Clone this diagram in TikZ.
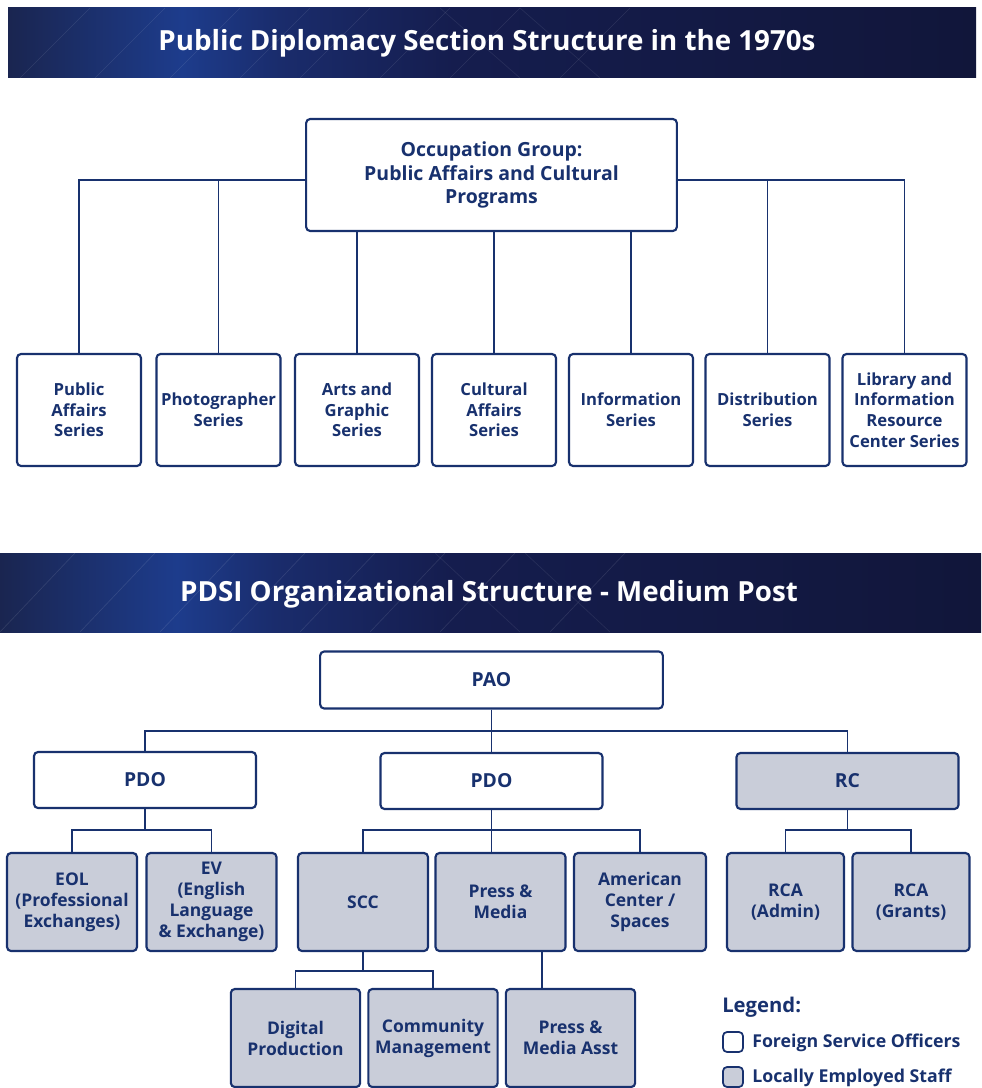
\documentclass[tikz,border=0pt]{standalone}
\usepackage{fontspec}
\setmainfont{Open Sans}
\usetikzlibrary{positioning}

\definecolor{navy}{HTML}{18316E}
\definecolor{lesfill}{HTML}{C9CDD9}
\definecolor{bnA}{HTML}{1A2550}
\definecolor{bnB}{HTML}{1D3C8C}
\definecolor{bnC}{HTML}{1A2C6C}
\definecolor{bnD}{HTML}{151D4E}
\definecolor{bnE}{HTML}{11163A}
\pgfdeclarehorizontalshading{bannershade}{100bp}{color(0bp)=(bnA); color(25bp)=(bnA);
  color(34bp)=(bnB); color(39bp)=(bnC); color(48bp)=(bnD); color(75bp)=(bnE); color(100bp)=(bnE)}

\begin{document}
\begin{tikzpicture}[x=0.75pt,y=-0.75pt,
		fso/.style={draw=navy,line width=1.6pt,rounded corners=3pt,fill=white,text=navy,
			align=center,inner sep=1pt,font=\fontsize{12.5}{15.5}\selectfont\bfseries},
		les/.style={fso,fill=lesfill},
		series/.style={fso,minimum width=93pt,minimum height=84pt},
		unit/.style={les,minimum width=97.5pt,minimum height=73.5pt,font=\fontsize{13.1}{15.75}\selectfont\bfseries},
		head/.style={minimum width=166.5pt,minimum height=42pt,font=\fontsize{14.5}{17}\selectfont\bfseries},
		link/.style={draw=navy,line width=1.4pt},
		title/.style={text=white,font=\fontsize{20.8}{24}\selectfont\bfseries},
		legtext/.style={anchor=west,inner sep=0pt,text=navy,font=\fontsize{13.3}{15}\selectfont\bfseries}]
		\useasboundingbox (0,0) rectangle (981,1088);
		
		% banners
		\fill[shading=bannershade] (8,8) rectangle (976,78);
		\fill[shading=bannershade] (0,553) rectangle (981,632);
		\begin{scope}
			\clip (8,8) rectangle (976,78);
			\foreach \x in {20,95,170,240,300,380,450,560} \draw[white,opacity=0.10,line width=0.5pt] (\x,78) -- ++(70,-70);
			\foreach \x in {520,600} \draw[white,opacity=0.08,line width=0.5pt] (\x,78) -- ++(-80,-70);
		\end{scope}
		\begin{scope}
			\clip (0,553) rectangle (981,632);
			\foreach \x in {0,80,160,230,300,370,440,550} \draw[white,opacity=0.10,line width=0.5pt] (\x,632) -- ++(75,-79);
			\foreach \x in {520,610} \draw[white,opacity=0.08,line width=0.5pt] (\x,632) -- ++(-85,-79);
		\end{scope}
		\node[title] (t1) at (487,43) {Public Diplomacy Section Structure in the 1970s};
		\node[title] (t2) at (489,594) {PDSI Organizational Structure - Medium Post};
		
		% occupation group
		\node[fso,minimum width=278pt,minimum height=84pt,font=\fontsize{14.6}{17.6}\selectfont\bfseries] (og) at (491.5,175)
			{Occupation Group:\\Public Affairs and Cultural\\Programs};
		\node[series] (s1) at (79,410) {Public\\Affairs\\Series};
		\node[series] (s2) at (218.5,410) {Photographer\\Series};
		\node[series] (s3) at (357,410) {Arts and\\Graphic\\Series};
		\node[series] (s4) at (494,410) {Cultural\\Affairs\\Series};
		\node[series] (s5) at (631,410) {Information\\Series};
		\node[series] (s6) at (767.5,410) {Distribution\\Series};
		\node[series] (s7) at (904.5,410) {Library and\\Information\\Resource\\Center Series};
		\draw[link] ([yshift=-3.75pt]og.west) -| (s1.north);
		\draw[link] ([yshift=-3.75pt]og.west) -| (s2.north);
		\draw[link] ([yshift=-3.75pt]og.east) -| (s6.north);
		\draw[link] ([yshift=-3.75pt]og.east) -| (s7.north);
		\draw[link] (og.south -| s3.north) -- (s3.north);
		\draw[link] (og.south -| s4.north) -- (s4.north);
		\draw[link] (og.south -| s5.north) -- (s5.north);
		
		% pao and pdo
		\node[fso,head,minimum width=257pt,minimum height=42.75pt] (pao) at (491.5,680) {PAO};
		\node[fso,head] (pdoa) at (145,780) {PDO};
		\node[fso,head] (pdob) at (491.5,781) {PDO};
		\node[les,head] (rc) at (847.5,781) {RC};
		\draw[link] (pao.south) -- ++(0,21) -| (pdoa.north);
		\draw[link] (pao.south) -- ++(0,21) -| (pdob.north);
		\draw[link] (pao.south) -- ++(0,21) -| (rc.north);
		
		% units
		\node[unit] (eol) at (72,902) {EOL\\(Professional\\Exchanges)};
		\node[unit] (ev) at (211.5,902) {EV\\(English\\Language\\\& Exchange)};
		\node[unit] (scc) at (363,902) {SCC};
		\node[unit] (pm) at (500.5,902) {Press \&\\Media};
		\node[unit,minimum width=99pt] (ac) at (640,902) {American\\Center /\\Spaces};
		\node[unit,minimum width=87.75pt] (rcaa) at (785.5,902) {RCA\\(Admin)};
		\node[unit,minimum width=87.75pt] (rcag) at (911,902) {RCA\\(Grants)};
		\draw[link] (pdoa.south) -- ++(0,21) -| (eol.north);
		\draw[link] (pdoa.south) -- ++(0,21) -| (ev.north);
		\draw[link] (pdob.south) -- ++(0,20) -| (scc.north);
		\draw[link] (pdob.south) -- ++(0,20) -| (ac.north);
		\draw[link] (pdob.south) -- (pdob.south |- pm.north);
		\draw[link] (rc.south) -- ++(0,20) -| (rcaa.north);
		\draw[link] (rc.south) -- ++(0,20) -| (rcag.north);
		
		% sub units
		\node[unit,minimum width=97pt] (dp) at (295.5,1038) {Digital\\Production};
		\node[unit,minimum width=97pt] (cm) at (433,1038) {Community\\Management};
		\node[unit,minimum width=97pt] (pma) at (570.5,1038) {Press \&\\Media Asst};
		\draw[link] (scc.south) -- ++(0,19) -| (dp.north);
		\draw[link] (scc.south) -- ++(0,19) -| (cm.north);
		\coordinate (pmx) at ([xshift=31pt]pm.south);
		\draw[link] (pmx) -- (pmx |- pma.north);
		
		% legend
		\node[legtext,font=\fontsize{15.2}{17}\selectfont\bfseries] (lg) at (722,1007) {Legend:};
		\node[fso,line width=1.3pt,minimum size=15pt,inner sep=0pt] (lgf) at (733,1042) {};
		\node[les,line width=1.3pt,minimum size=15pt,inner sep=0pt] (lgl) at (733,1077) {};
		\node[legtext] (lgft) at (752,1043) {Foreign Service Officers};
		\node[legtext] (lglt) at (752,1078) {Locally Employed Staff};
\end{tikzpicture}
\end{document}
